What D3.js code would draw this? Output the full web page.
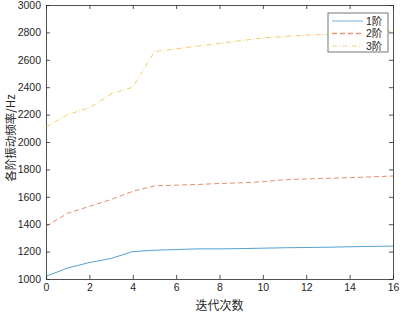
<!DOCTYPE html>
<html>
<head>
<meta charset="utf-8">
<script src="https://cdn.jsdelivr.net/npm/d3@7"></script>
<style>
  body { margin: 0; background: #fff; }
  text { font-family: "Liberation Sans", Arial, sans-serif; }
</style>
</head>
<body>
<div class="chart"></div>
<script>
// iteration number and the three modal frequencies (Hz)
const iterations = [0, 1, 2, 3, 4, 5, 6, 7, 8, 9, 10, 11, 12, 13, 14, 15, 16]
const mode1 = [1020, 1080, 1120, 1150, 1200, 1210, 1215, 1220, 1220, 1222, 1225, 1228, 1230, 1232, 1235, 1238, 1240]
const mode2 = [1385, 1480, 1530, 1580, 1640, 1680, 1685, 1690, 1697, 1702, 1710, 1725, 1730, 1735, 1740, 1745, 1752]
const mode3 = [2110, 2200, 2250, 2350, 2400, 2660, 2680, 2700, 2720, 2740, 2760, 2770, 2780, 2785, 2790, 2800, 2810]
const seriesNames = ["1阶", "2阶", "3阶"]
const xTicks = [0, 2, 4, 6, 8, 10, 12, 14, 16]
const yTicks = [1000, 1200, 1400, 1600, 1800, 2000, 2200, 2400, 2600, 2800, 3000]

const width = 401, height = 314
const margin = { top: 5, right: 8, bottom: 35, left: 46 }
const innerW = width - margin.left - margin.right
const innerH = height - margin.top - margin.bottom

const svg = d3.select(".chart").append("svg")
  .attr("width", width)
  .attr("height", height)

const g = svg.append("g")
  .attr("transform", "translate(" + margin.left + "," + margin.top + ")")

const x = d3.scaleLinear().domain([0, 16]).range([0, innerW])
const y = d3.scaleLinear().domain([1000, 3000]).range([innerH, 0])

const axisColor = "#262626"

// axes with inward ticks, box on all four sides
function styleAxis(sel) {
  sel.select(".domain").attr("stroke", axisColor).attr("stroke-width", 0.8)
  sel.selectAll(".tick line").attr("stroke", axisColor).attr("stroke-width", 0.8)
  sel.selectAll(".tick text").attr("fill", axisColor).style("font-size", "10.5px")
}

g.append("g")
  .attr("transform", "translate(0," + innerH + ")")
  .call(d3.axisBottom(x).tickValues(xTicks).tickFormat(d3.format("d")).tickSizeInner(-4).tickSizeOuter(0).tickPadding(5))
  .call(styleAxis)

g.append("g")
  .call(d3.axisLeft(y).tickValues(yTicks).tickFormat(d3.format("d")).tickSizeInner(-4).tickSizeOuter(0).tickPadding(5))
  .call(styleAxis)

g.append("g")
  .call(d3.axisTop(x).tickValues(xTicks).tickSizeInner(-4).tickSizeOuter(0).tickFormat(""))
  .call(styleAxis)

g.append("g")
  .attr("transform", "translate(" + innerW + ",0)")
  .call(d3.axisRight(y).tickValues(yTicks).tickSizeInner(-4).tickSizeOuter(0).tickFormat(""))
  .call(styleAxis)

// lines
const styles = [
  { color: "#0072BD", dash: null },
  { color: "#D95319", dash: "5,3" },
  { color: "#EDB120", dash: "5,2,1,2" }
]
const allSeries = [mode1, mode2, mode3]

const line = d3.line()
  .x((d, i) => x(iterations[i]))
  .y(d => y(d))

allSeries.forEach((s, k) => {
  g.append("path")
    .datum(s)
    .attr("fill", "none")
    .attr("stroke", styles[k].color)
    .attr("stroke-width", 0.9)
    .attr("stroke-opacity", 0.75)
    .attr("stroke-dasharray", styles[k].dash)
    .attr("d", line)
})

// axis labels
svg.append("text")
  .attr("x", margin.left + innerW / 2)
  .attr("y", 310)
  .attr("text-anchor", "middle")
  .attr("fill", axisColor)
  .style("font-family", "'Noto Sans CJK SC', sans-serif")
  .style("font-size", "12px")
  .text("迭代次数")

svg.append("text")
  .attr("transform", "translate(10," + (margin.top + innerH / 2 - 4) + ") rotate(-90)")
  .attr("text-anchor", "middle")
  .attr("dominant-baseline", "central")
  .attr("fill", axisColor)
  .style("font-family", "'Noto Sans CJK SC', sans-serif")
  .style("font-size", "11.5px")
  .text("各阶振动频率/Hz")

// legend
const legend = svg.append("g")
  .attr("transform", "translate(328,13)")

legend.append("rect")
  .attr("width", 60)
  .attr("height", 39)
  .attr("fill", "white")
  .attr("stroke", "#777")
  .attr("stroke-width", 1)

const legendItems = legend.selectAll("g")
  .data(seriesNames)
  .join("g")
  .attr("transform", (d, i) => `translate(0, ${8 + i * 12.5})`)

legendItems.append("line")
  .attr("x1", 4)
  .attr("x2", 35)
  .attr("stroke", (d, i) => styles[i].color)
  .attr("stroke-width", (d, i) => i === 1 ? 1.6 : 0.9)
  .attr("stroke-opacity", 0.6)
  .attr("stroke-dasharray", (d, i) => styles[i].dash)

legendItems.append("text")
  .text(d => d)
  .attr("x", 38)
  .attr("dy", "0.36em")
  .attr("fill", axisColor)
  .style("font-family", "'Liberation Sans', 'Noto Sans CJK SC', sans-serif")
  .style("font-size", "10.5px")
</script>
</body>
</html>
